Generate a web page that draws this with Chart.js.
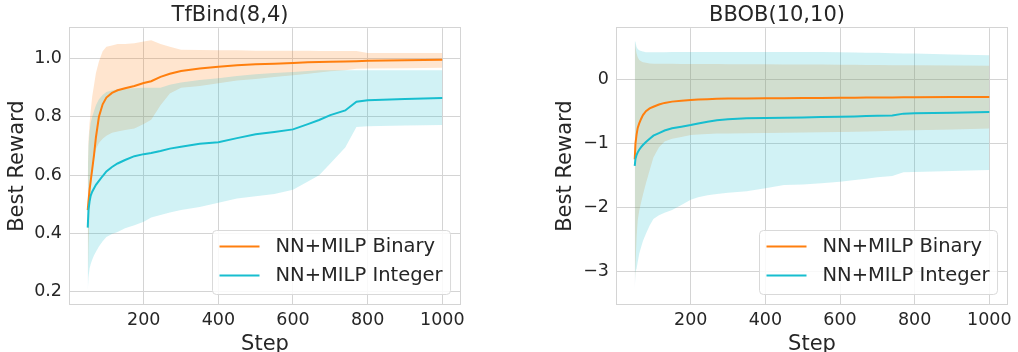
<!DOCTYPE html>
<html>
<head>
<meta charset="utf-8">
<script src="https://cdn.jsdelivr.net/npm/chart.js@4.4.0/dist/chart.umd.min.js"></script>
<style>
  body { margin: 0; background: #fff; width: 1018px; height: 352px; position: relative; overflow: hidden; }
  .panel { position: absolute; top: 0; height: 352px; }
</style>
</head>
<body>
<div class="panel" style="left:0;width:480px"><canvas id="tfbind" width="480" height="352"></canvas></div>
<div class="panel" style="left:545px;width:473px"><canvas id="bbob" width="473" height="352"></canvas></div>
<script>
// shared x positions (optimisation step) and labels
var steps = [50, 52, 55, 58, 62, 67, 72, 80, 90, 100, 115, 130, 150, 175, 200, 220, 245, 270, 300, 350,
             400, 450, 500, 550, 600, 640, 670, 700, 740, 770, 800, 900, 1000];
var seriesNames = ["NN+MILP Binary", "NN+MILP Integer"];
var xTicks = [200, 400, 600, 800, 1000];
var tfbindTicks = [0.2, 0.4, 0.6, 0.8, 1.0];
var bbobTicks = [-3, -2, -1, 0];

// TfBind(8,4): mean and band edges
var tfBinary   = [0.48, 0.51, 0.55, 0.58, 0.62, 0.67, 0.73, 0.80, 0.843, 0.866, 0.882, 0.891, 0.898, 0.906, 0.916, 0.922, 0.937, 0.948, 0.957, 0.966,
                  0.972, 0.977, 0.980, 0.982, 0.985, 0.987, 0.988, 0.989, 0.990, 0.991, 0.992, 0.994, 0.996];
var tfBinaryHi = [0.60, 0.72, 0.78, 0.82, 0.87, 0.91, 0.95, 0.99, 1.025, 1.040, 1.045, 1.050, 1.050, 1.052, 1.058, 1.063, 1.050, 1.040, 1.030, 1.029,
                  1.028, 1.028, 1.027, 1.027, 1.027, 1.027, 1.026, 1.026, 1.026, 1.026, 1.019, 1.019, 1.019];
var tfBinaryLo = [0.20, 0.35, 0.47, 0.55, 0.61, 0.66, 0.69, 0.71, 0.725, 0.735, 0.745, 0.750, 0.755, 0.760, 0.775, 0.790, 0.840, 0.880, 0.900, 0.906,
                  0.915, 0.925, 0.930, 0.937, 0.943, 0.948, 0.952, 0.956, 0.960, 0.965, 0.966, 0.967, 0.968];
var tfInteger   = [0.42, 0.48, 0.51, 0.53, 0.543, 0.555, 0.567, 0.58, 0.597, 0.613, 0.628, 0.640, 0.652, 0.665, 0.672, 0.676, 0.683, 0.691, 0.697, 0.708,
                   0.713, 0.727, 0.740, 0.748, 0.757, 0.775, 0.789, 0.806, 0.822, 0.852, 0.857, 0.861, 0.865];
var tfIntegerHi = [0.60, 0.70, 0.75, 0.78, 0.80, 0.82, 0.84, 0.86, 0.875, 0.885, 0.890, 0.895, 0.897, 0.898, 0.900, 0.900, 0.900, 0.910, 0.918, 0.926,
                   0.932, 0.940, 0.946, 0.950, 0.954, 0.957, 0.960, 0.960, 0.960, 0.960, 0.960, 0.960, 0.960];
var tfIntegerLo = [0.20, 0.25, 0.28, 0.295, 0.31, 0.325, 0.337, 0.355, 0.373, 0.388, 0.398, 0.405, 0.418, 0.428, 0.440, 0.455, 0.463, 0.472, 0.480, 0.491,
                   0.505, 0.520, 0.528, 0.535, 0.550, 0.578, 0.600, 0.640, 0.695, 0.765, 0.768, 0.770, 0.772];

// BBOB(10,10)
var bbBinary   = [-1.25, -1.00, -0.86, -0.76, -0.69, -0.62, -0.56, -0.50, -0.456, -0.43, -0.395, -0.37, -0.35, -0.335, -0.325, -0.318, -0.312, -0.307, -0.303, -0.300,
                  -0.298, -0.296, -0.294, -0.292, -0.290, -0.288, -0.287, -0.286, -0.284, -0.283, -0.282, -0.279, -0.276];
var bbBinaryHi = [0.60, 0.50, 0.40, 0.34, 0.30, 0.28, 0.265, 0.255, 0.245, 0.240, 0.240, 0.240, 0.239, 0.238, 0.238, 0.237, 0.236, 0.235, 0.234, 0.233,
                  0.232, 0.230, 0.229, 0.227, 0.225, 0.223, 0.222, 0.220, 0.218, 0.217, 0.216, 0.212, 0.208];
var bbBinaryLo = [-3.30, -2.90, -2.45, -2.20, -2.05, -1.92, -1.80, -1.62, -1.42, -1.22, -1.06, -0.97, -0.93, -0.90, -0.87, -0.862, -0.855, -0.848, -0.845, -0.842,
                  -0.840, -0.836, -0.832, -0.828, -0.822, -0.818, -0.815, -0.810, -0.805, -0.800, -0.797, -0.785, -0.770];
var bbInteger   = [-1.35, -1.24, -1.18, -1.14, -1.10, -1.06, -1.026, -0.98, -0.93, -0.88, -0.84, -0.80, -0.765, -0.74, -0.715, -0.69, -0.663, -0.64, -0.625, -0.61,
                   -0.604, -0.600, -0.596, -0.590, -0.587, -0.580, -0.575, -0.570, -0.565, -0.537, -0.533, -0.522, -0.510];
var bbIntegerHi = [0.60, 0.58, 0.50, 0.47, 0.45, 0.44, 0.43, 0.42, 0.42, 0.42, 0.42, 0.42, 0.422, 0.423, 0.425, 0.425, 0.425, 0.425, 0.425, 0.425,
                   0.425, 0.425, 0.424, 0.422, 0.420, 0.416, 0.413, 0.410, 0.405, 0.400, 0.398, 0.385, 0.374];
var bbIntegerLo = [-3.30, -3.00, -2.95, -2.85, -2.72, -2.62, -2.52, -2.41, -2.28, -2.18, -2.12, -2.08, -2.04, -1.96, -1.88, -1.84, -1.81, -1.79, -1.77, -1.745,
                   -1.70, -1.65, -1.64, -1.62, -1.60, -1.57, -1.55, -1.53, -1.51, -1.45, -1.445, -1.43, -1.417];

var ORANGE = "#ff7f0e", CYAN = "#17becf", GRID = "#d4d4d4", INK = "#262626";
var FONT = "'DejaVu Sans', sans-serif";
Chart.defaults.font.family = FONT;
Chart.defaults.color = INK;

function pts(ys) {
    return steps.map(function (x, i) { return { x: x, y: ys[i] }; });
}

// light frame round the plot area, like the seaborn whitegrid spines
var frame = {
    id: "frame",
    beforeDatasetsDraw: function (chart) {
        var a = chart.chartArea, ctx = chart.ctx;
        ctx.save();
        ctx.strokeStyle = GRID;
        ctx.lineWidth = 1;
        ctx.strokeRect(Math.round(a.left) - 0.5, Math.round(a.top) - 0.5, Math.round(a.right - a.left) + 1, Math.round(a.bottom - a.top) + 1);
        ctx.restore();
    }
};

// legend box in the lower right corner of the plot area
var boxLegend = {
    id: "boxLegend",
    afterDatasetsDraw: function (chart) {
        var a = chart.chartArea, ctx = chart.ctx;
        var items = chart.data.datasets.filter(function (d) { return d.inLegend; });
        ctx.save();
        ctx.font = "19.5px " + FONT;
        var tw = Math.max.apply(null, items.map(function (d) { return ctx.measureText(d.label).width; }));
        var w = 7 + 40 + 16 + tw + 8, h = 64;
        var x = Math.round(a.right - 10 - w) + 0.5, y = Math.round(a.bottom - 10 - h) + 0.5;
        ctx.beginPath();
        ctx.roundRect(x, y, w, h, 4);
        ctx.fillStyle = "rgba(255,255,255,0.85)";
        ctx.fill();
        ctx.strokeStyle = "#d9d9d9";
        ctx.lineWidth = 1;
        ctx.stroke();
        items.forEach(function (d, i) {
            var cy = y + 16 + i * 29;
            ctx.strokeStyle = d.borderColor;
            ctx.lineWidth = 2;
            ctx.beginPath();
            ctx.moveTo(x + 7, cy);
            ctx.lineTo(x + 47, cy);
            ctx.stroke();
            ctx.fillStyle = INK;
            ctx.textBaseline = "middle";
            ctx.fillText(d.label, x + 63, cy);
        });
        ctx.restore();
    }
};

function makeChart(id, title, s, yMin, yMax, yTicks, cfg) {
    var clear = "rgba(0,0,0,0)";
    var band = { pointRadius: 0, borderWidth: 1, borderColor: clear, tension: 0 };
    new Chart(id, {
        type: "line",
        data: {
            datasets: [
                { label: seriesNames[0], data: pts(s[0]), borderColor: ORANGE, borderWidth: 2, pointRadius: 0, order: 1, inLegend: true },
                { label: seriesNames[1], data: pts(s[3]), borderColor: CYAN, borderWidth: 2, pointRadius: 0, order: 0, inLegend: true },
                Object.assign({ label: "binary hi", data: pts(s[1]), fill: false, order: 5 }, band),
                Object.assign({ label: "binary lo", data: pts(s[2]), fill: "-1", backgroundColor: "rgba(255,127,14,0.2)", order: 4 }, band),
                Object.assign({ label: "integer hi", data: pts(s[4]), fill: false, order: 3 }, band),
                Object.assign({ label: "integer lo", data: pts(s[5]), fill: "-1", backgroundColor: "rgba(23,190,207,0.2)", order: 2 }, band)
            ]
        },
        options: {
            responsive: false,
            animation: false,
            devicePixelRatio: 1,
            layout: { padding: { left: 0, right: cfg.padRight, top: 0, bottom: 0 } },
            plugins: {
                legend: { display: false },
                tooltip: { enabled: false },
                title: {
                    display: true, text: title, color: INK,
                    font: { size: 21, weight: "normal" },
                    padding: { top: 3, bottom: 0 }
                }
            },
            scales: {
                x: {
                    type: "linear", min: 2.5, max: 1047.5,
                    afterBuildTicks: function (sc) { sc.ticks = xTicks.map(function (v) { return { value: v }; }); },
                    afterFit: function (sc) { sc.height = 48; },
                    grid: { color: GRID, drawTicks: false },
                    border: { display: false },
                    ticks: { font: { size: 17.5 }, color: INK, padding: 6, maxRotation: 0,
                             callback: function (v) { return String(v); } },
                    title: { display: true, text: "Step", color: INK, font: { size: 21, lineHeight: 1 }, padding: { top: 0, bottom: -3 } }
                },
                y: {
                    min: yMin, max: yMax,
                    afterBuildTicks: function (sc) { sc.ticks = yTicks.map(function (v) { return { value: v }; }); },
                    afterFit: function (sc) { sc.width = cfg.yWidth; },
                    grid: { color: GRID, drawTicks: false },
                    border: { display: false },
                    ticks: {
                        font: { size: 17.5 }, color: INK, padding: 8,
                        callback: cfg.fmt
                    },
                    title: { display: true, text: "Best Reward", color: INK, font: { size: 21, lineHeight: 1.2 }, padding: { top: cfg.titlePad, bottom: 0 } }
                }
            }
        },
        plugins: [frame, boxLegend]
    });
}

makeChart("tfbind", "TfBind(8,4)",
    [tfBinary, tfBinaryHi, tfBinaryLo, tfInteger, tfIntegerHi, tfIntegerLo],
    0.158, 1.104, tfbindTicks,
    { padRight: 20, yWidth: 70, titlePad: 5, fmt: function (v) { return v.toFixed(1); } });

makeChart("bbob", "BBOB(10,10)",
    [bbBinary, bbBinaryHi, bbBinaryLo, bbInteger, bbIntegerHi, bbIntegerLo],
    -3.503, 0.794, bbobTicks,
    { padRight: 9, yWidth: 72, titlePad: 8, fmt: function (v) { return v < 0 ? "\u2212" + Math.abs(v) : String(v); } });
</script>
</body>
</html>
